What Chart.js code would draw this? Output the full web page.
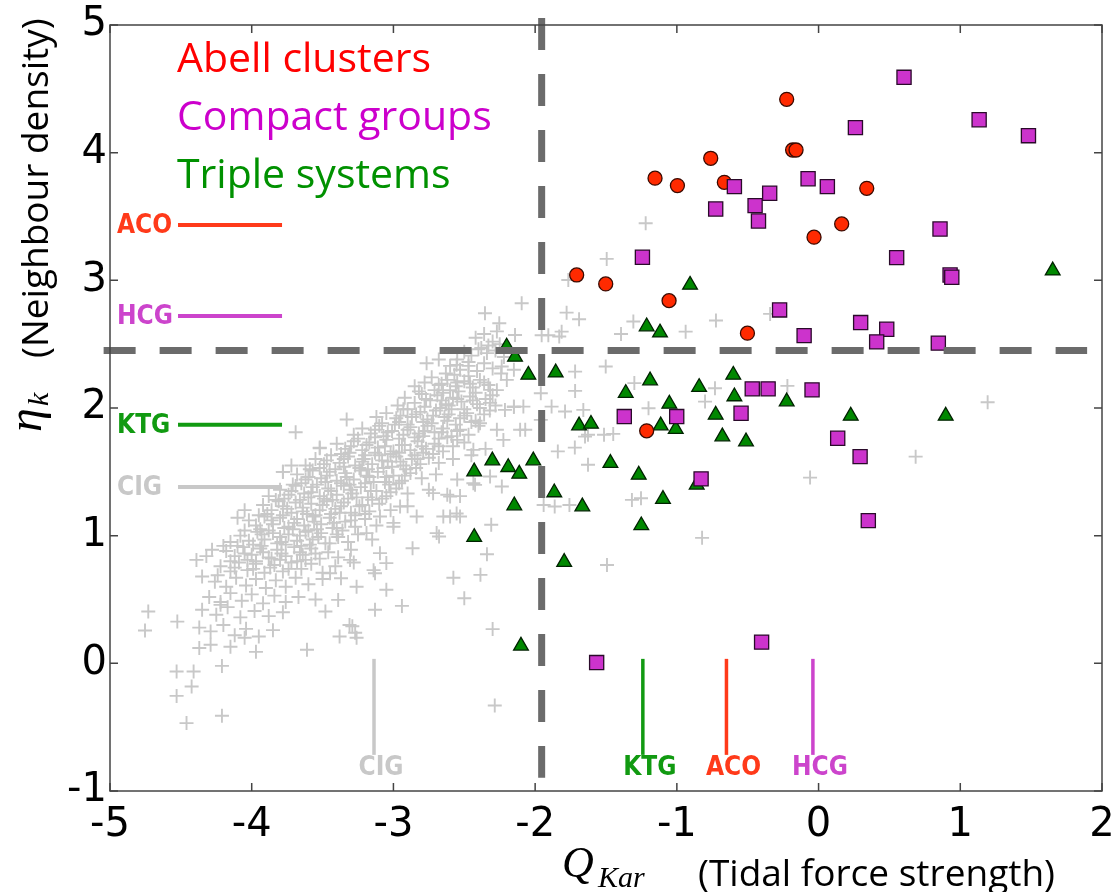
<!DOCTYPE html>
<html>
<head>
<meta charset="utf-8">
<script src="https://cdn.jsdelivr.net/npm/chart.js@4.4.0/dist/chart.umd.min.js"></script>
<style>
  html, body { margin: 0; padding: 0; background: #fff; }
</style>
</head>
<body>
<canvas id="chart" width="1118" height="892"></canvas>
<script>
// isolated galaxies (CIG), [Q_Kar, eta_k]
const cigPoints = [
  [-2.42,2.55],[-2.36,2.58],[-2.30,2.52],[-2.27,2.60],[-2.33,2.49],[-2.38,2.47],[-2.25,2.50],
  [-2.50,2.44],[-2.45,2.41],[-2.40,2.46],[-2.34,2.43],[-2.28,2.45],[-2.22,2.40],[-2.55,2.38],[-2.47,2.36],
  [-2.68,2.38],[-2.60,2.33],[-2.53,2.30],[-2.47,2.33],[-2.41,2.29],[-2.36,2.35],[-2.30,2.31],[-2.24,2.27],[-2.63,2.27],[-2.57,2.26],[-2.15,2.30],
  [-2.78,2.20],[-2.73,2.24],[-2.68,2.18],[-2.62,2.22],[-2.56,2.17],[-2.50,2.21],[-2.44,2.16],[-2.39,2.22],[-2.33,2.18],[-2.27,2.14],[-2.85,2.17],[-2.60,2.14],[-2.47,2.25],
  [-2.82,2.13],[-2.71,2.14],[-2.65,2.12],[-2.54,2.13],[-2.42,2.12],[-2.30,2.10],
  [-2.92,2.08],[-2.85,2.04],[-2.80,2.11],[-2.74,2.06],[-2.69,2.10],[-2.63,2.03],[-2.58,2.08],[-2.52,2.05],[-2.46,2.09],[-2.41,2.03],[-2.35,2.07],[-2.28,2.02],[-2.97,2.02],[-2.15,2.01],
  [-2.90,1.99],[-2.78,2.01],[-2.67,2.00],[-2.61,2.02],[-2.50,1.99],[-2.39,2.00],[-2.32,1.98],
  [-3.05,1.96],[-2.98,1.92],[-2.93,1.99],[-2.87,1.93],[-2.81,1.97],[-2.76,1.91],[-2.70,1.98],[-2.64,1.93],[-2.59,1.99],[-2.53,1.92],[-2.48,1.96],[-2.42,1.90],[-2.36,1.95],[-3.33,1.91],[-3.12,1.93],
  [-3.08,1.88],[-2.96,1.89],[-2.90,1.87],[-2.79,1.89],[-2.73,1.88],[-2.62,1.90],[-2.56,1.87],[-2.45,1.89],
  [-3.22,1.84],[-3.16,1.80],[-3.10,1.86],[-3.04,1.81],[-2.99,1.87],[-2.93,1.79],[-2.88,1.85],[-2.82,1.80],[-2.76,1.86],[-2.71,1.81],[-2.65,1.84],[-2.59,1.78],[-2.53,1.83],[-2.47,1.79],[-3.28,1.79],[-3.69,1.81],[-2.40,1.86],
  [-3.25,1.76],[-3.13,1.77],[-3.07,1.78],[-2.96,1.76],[-2.85,1.77],[-2.79,1.78],[-2.68,1.76],[-2.62,1.77],[-2.55,1.75],
  [-3.40,1.72],[-3.34,1.68],[-3.28,1.74],[-3.22,1.67],[-3.17,1.73],[-3.11,1.69],[-3.05,1.75],[-3.00,1.66],[-2.94,1.71],[-2.88,1.67],[-2.83,1.74],[-2.77,1.68],[-2.71,1.72],[-2.65,1.66],[-2.58,1.70],[-3.52,1.69],[-2.50,1.73],[-2.35,1.68],
  [-3.37,1.64],[-3.31,1.65],[-3.20,1.63],[-3.13,1.65],[-3.02,1.64],[-2.96,1.65],[-2.85,1.63],[-2.79,1.65],[-2.72,1.64],
  [-3.55,1.60],[-3.49,1.56],[-3.44,1.63],[-3.38,1.57],[-3.32,1.62],[-3.27,1.55],[-3.21,1.60],[-3.15,1.56],[-3.10,1.63],[-3.04,1.58],[-2.98,1.62],[-2.93,1.55],[-2.87,1.60],[-2.81,1.56],[-2.75,1.61],[-2.68,1.57],[-3.62,1.55],[-2.58,1.60],[-2.45,1.63],
  [-3.59,1.52],[-3.52,1.53],[-3.41,1.52],[-3.35,1.54],[-3.24,1.53],[-3.18,1.52],[-3.07,1.53],[-3.01,1.54],[-2.91,1.52],[-2.84,1.53],
  [-3.68,1.48],[-3.62,1.44],[-3.57,1.51],[-3.51,1.45],[-3.45,1.50],[-3.40,1.43],[-3.34,1.49],[-3.28,1.44],[-3.23,1.51],[-3.17,1.46],[-3.11,1.50],[-3.06,1.42],[-3.00,1.47],[-2.94,1.43],[-2.88,1.49],[-2.80,1.45],[-3.78,1.50],[-2.70,1.48],[-2.55,1.44],
  [-3.71,1.40],[-3.65,1.41],[-3.54,1.40],[-3.48,1.42],[-3.37,1.41],[-3.31,1.40],[-3.20,1.41],[-3.14,1.42],[-3.03,1.40],[-2.96,1.41],
  [-3.80,1.36],[-3.74,1.32],[-3.69,1.39],[-3.63,1.33],[-3.57,1.38],[-3.52,1.31],[-3.46,1.37],[-3.40,1.32],[-3.35,1.39],[-3.29,1.33],[-3.23,1.38],[-3.18,1.30],[-3.12,1.35],[-3.05,1.31],[-2.98,1.37],[-2.90,1.33],[-3.88,1.31],[-2.75,1.36],[-2.62,1.32],
  [-3.83,1.28],[-3.77,1.29],[-3.66,1.28],[-3.60,1.30],[-3.49,1.29],[-3.43,1.28],[-3.32,1.29],[-3.26,1.30],[-3.15,1.28],[-3.08,1.29],
  [-3.92,1.24],[-3.86,1.20],[-3.81,1.27],[-3.75,1.21],[-3.69,1.26],[-3.64,1.19],[-3.58,1.25],[-3.52,1.20],[-3.47,1.27],[-3.41,1.21],[-3.35,1.26],[-3.30,1.18],[-3.24,1.23],[-3.17,1.19],[-3.10,1.25],[-3.02,1.20],[-4.05,1.20],[-2.90,1.23],
  [-3.95,1.16],[-3.89,1.17],[-3.78,1.16],[-3.72,1.18],[-3.61,1.17],[-3.55,1.16],[-3.44,1.17],[-3.38,1.18],[-3.27,1.16],[-3.20,1.17],
  [-4.02,1.12],[-3.97,1.08],[-3.91,1.15],[-3.85,1.09],[-3.80,1.14],[-3.74,1.07],[-3.68,1.13],[-3.63,1.08],[-3.57,1.15],[-3.51,1.09],[-3.45,1.14],[-3.40,1.06],[-3.34,1.11],[-3.27,1.07],[-3.20,1.13],[-3.12,1.08],[-4.10,1.14],[-3.00,1.10],
  [-4.05,1.04],[-3.94,1.05],[-3.88,1.04],[-3.77,1.06],[-3.71,1.05],[-3.60,1.04],[-3.54,1.05],[-3.43,1.06],[-3.36,1.04],
  [-4.08,1.00],[-4.02,0.96],[-3.96,1.03],[-3.91,0.97],[-3.85,1.02],[-3.79,0.95],[-3.74,1.01],[-3.68,0.96],[-3.62,1.03],[-3.57,0.97],[-3.51,1.02],[-3.45,0.94],[-3.39,0.99],[-3.32,0.95],[-3.25,1.01],[-4.15,0.95],[-3.15,0.97],
  [-4.10,0.92],[-3.99,0.93],[-3.93,0.92],[-3.82,0.94],[-3.76,0.93],[-3.65,0.92],[-3.59,0.93],[-3.48,0.94],
  [-4.18,0.88],[-4.12,0.84],[-4.06,0.91],[-4.00,0.85],[-3.94,0.90],[-3.88,0.83],[-3.82,0.89],[-3.76,0.84],[-3.70,0.91],[-3.64,0.85],[-3.58,0.90],[-3.52,0.82],[-3.46,0.87],[-3.39,0.83],[-3.30,0.89],[-4.28,0.89],[-4.39,0.81],[-4.32,0.84],[-4.20,0.92],
  [-4.15,0.80],[-4.03,0.81],[-3.97,0.80],[-3.86,0.82],[-3.80,0.81],[-3.68,0.80],[-3.62,0.81],
  [-4.22,0.76],[-4.15,0.72],[-4.09,0.79],[-4.03,0.73],[-3.97,0.78],[-3.91,0.71],[-3.84,0.77],[-3.78,0.72],[-3.72,0.79],[-3.65,0.74],[-3.58,0.78],[-3.50,0.71],[-3.41,0.76],[-4.35,0.68],[-4.24,0.69],[-3.28,0.79],[-3.05,0.785],
  [-4.26,0.64],[-4.18,0.60],[-4.11,0.67],[-4.04,0.61],[-3.97,0.66],[-3.90,0.59],[-3.83,0.65],[-3.76,0.60],[-3.69,0.67],[-3.60,0.62],[-3.50,0.66],[-3.37,0.667],[-3.26,0.60],[-3.13,0.706],
  [-4.30,0.52],[-4.22,0.48],[-4.15,0.55],[-4.07,0.49],[-4.00,0.54],[-3.92,0.47],[-3.84,0.53],[-3.76,0.48],[-3.67,0.52],[-3.55,0.50],[-3.39,0.497],[-3.05,0.576],[-2.94,0.45],
  [-4.35,0.42],[-4.25,0.38],[-4.17,0.44],[-4.08,0.36],[-3.98,0.41],[-3.88,0.37],[-3.78,0.40],[-3.48,0.406],[-3.13,0.42],[-4.22,0.458],
  [-4.37,0.28],[-4.29,0.25],[-4.20,0.30],[-4.12,0.22],[-4.04,0.27],[-3.95,0.21],[-3.85,0.26],[-3.29,0.29],[-3.27,0.24],[-3.38,0.21],[-3.26,0.20],[-3.31,0.30],
  [-4.37,0.12],[-4.29,0.145],[-4.15,0.13],[-4.05,0.20],[-3.97,0.09],[-3.61,0.106],
  [-4.73,0.406],[-4.753,0.257],[-4.525,0.327],[-4.53,-0.064],[-4.41,-0.064],[-4.424,-0.182],[-4.53,-0.255],[-4.46,-0.468],[-4.21,-0.411],[-4.21,-0.02],
  [-3.78,1.50],[-3.72,1.55],[-3.52,1.685],
  [-3.86,1.12],[-3.70,1.10],[-3.56,1.11],[-3.42,1.10],[-3.30,1.12],
  [-3.93,1.01],[-3.80,0.99],[-3.66,1.00],[-3.53,0.99],[-3.40,1.01],
  [-3.78,1.23],[-3.64,1.22],[-3.50,1.24],[-3.37,1.23],[-3.22,1.24],
  [-3.72,1.35],[-3.58,1.34],[-3.44,1.35],[-3.30,1.36],[-3.16,1.35],[-3.02,1.34],
  [-3.60,1.46],[-3.47,1.47],[-3.33,1.46],[-3.19,1.47],[-3.05,1.46],[-2.92,1.47],
  [-3.47,1.59],[-3.35,1.60],[-3.22,1.58],[-3.08,1.59],[-2.95,1.58],[-2.83,1.60],
  [-3.30,1.70],[-3.19,1.71],[-3.06,1.70],[-2.92,1.71],[-2.80,1.70],[-2.68,1.70],
  [-3.13,1.83],[-3.01,1.82],[-2.90,1.83],[-2.78,1.82],[-2.66,1.81],[-2.55,1.82],
  [-2.95,1.94],[-2.84,1.95],[-2.72,1.94],[-2.61,1.95],[-2.50,1.94],
  [-2.77,2.07],[-2.66,2.06],[-2.55,2.07],[-2.44,2.06],
  [-2.66,2.19],[-2.55,2.20],[-2.46,2.19],[-2.36,2.20],
  [-4.05,0.86],[-3.92,0.87],[-3.79,0.86],[-3.66,0.87],[-3.55,0.86],
  [-4.12,0.75],[-3.99,0.74],[-3.87,0.75],[-3.74,0.74],
  [-2.424,1.398],[-2.235,1.385],[-2.31,1.085],[-2.678,0.993],[-2.865,0.902],[-2.34,0.855],[-2.577,0.67],[-2.386,0.693],[-2.50,0.51],[-2.30,0.268],[-2.285,-0.33],
  [-2.53,1.31],[-2.436,1.41],[-2.318,1.463],[-2.60,1.15],[-2.53,1.15],[-2.554,1.174],[-2.695,1.02],[-2.648,1.15],[-2.72,1.333],[-2.60,1.306],
  [-2.953,1.228],[-2.836,1.15],[-3.095,1.15],[-3.00,1.07],[-3.19,1.02],[-3.095,0.863],[-3.306,0.81],[-3.14,0.73],[-3.447,0.706],
  [-2.236,2.325],[-2.20,2.22],[-2.318,2.142],[-2.083,2.011],[-2.106,1.83],[-2.213,1.985],[-2.389,1.88],[-2.224,1.75],[-1.96,1.907],[-1.96,2.116],
  [-2.318,2.04],[-2.27,1.83],[-2.436,1.672],[-2.766,2.35],[-2.554,2.338],[-2.07,1.83],[-2.15,2.01],
  [-1.22,3.447],[-1.495,3.168],[-1.766,3.003],[-2.095,2.82],[-2.354,2.742],[-2.253,2.664],[-1.778,2.747],[-1.69,2.695],[-1.813,2.598],
  [-1.307,2.677],[-1.394,2.58],[-0.938,2.598],[-0.724,2.685],[-0.342,2.737],[-2.142,2.572],[-1.954,2.57],[-1.907,2.57],[-1.83,2.56],
  [-0.22,2.173],[1.193,2.045],[0.685,1.619],[-0.06,1.455],[-0.822,0.983],[-1.493,0.77],
  [-1.84,1.66],[-1.72,1.69],[-1.627,1.555],[-1.862,1.228],[-1.758,1.24],[-1.317,1.28],[-1.253,1.293],[-1.94,1.24],[-1.627,1.79],[-1.514,1.79],
  [-1.718,2.285],[-1.502,2.325],[-1.718,2.134],[-1.884,2.011],[-1.789,1.972],[-1.66,1.985],[-1.30,2.195],[-1.20,1.998],[-1.449,1.797],[-1.648,1.776],
  [-0.731,2.155],[-0.801,2.05]
];

// triple systems (KTG)
const ktgPoints = [
  [1.652,3.076],[-0.907,2.964],[-1.213,2.638],[-1.119,2.59],[-2.201,2.48],[-2.142,2.40],[-2.048,2.259],[-1.855,2.277],
  [-1.189,2.215],[-1.361,2.116],[-1.053,2.032],[-0.843,2.163],[-0.602,2.259],[-0.594,2.09],[-0.726,1.946],[-0.512,1.737],
  [-0.679,1.776],[-1.69,1.862],[-1.606,1.875],[-1.114,1.862],[-1.008,1.834],[-2.302,1.588],[-2.43,1.502],[-2.19,1.536],
  [-2.112,1.484],[-2.013,1.588],[-1.469,1.568],[-1.269,1.476],[-1.865,1.338],[-1.667,1.228],[-2.147,1.236],[-1.098,1.286],
  [-0.86,1.398],[-1.251,1.08],[-2.43,0.988],[-1.795,0.793],[-2.10,0.137],[-0.225,2.05],[0.227,1.938],[0.897,1.938]
];

// Abell clusters (ACO)
const acoPoints = [
  [-0.761,3.956],[-1.154,3.80],[-0.996,3.742],[-0.665,3.768],[-1.707,3.042],[-1.502,2.972],[-1.055,2.841],[-0.502,2.586],
  [-0.225,4.418],[-0.183,4.021],[-0.159,4.021],[0.340,3.721],[0.163,3.442],[-0.032,3.338],[-1.213,1.821]
];

// Hickson compact groups (HCG)
const hcgPoints = [
  [0.603,4.590],[0.260,4.196],[1.133,4.258],[1.481,4.133],[-0.594,3.734],[-0.074,3.796],[0.062,3.734],[-0.345,3.682],
  [-0.726,3.559],[-0.448,3.585],[-0.424,3.465],[0.857,3.402],[-1.243,3.181],[0.551,3.178],[0.928,3.042],[0.94,3.024],
  [-0.275,2.768],[-0.102,2.567],[0.297,2.669],[0.481,2.617],[0.410,2.518],[0.845,2.508],
  [-0.468,2.15],[-0.356,2.15],[-0.046,2.142],[-0.547,1.959],[-1.371,1.933],[-1.001,1.933],[-0.829,1.445],
  [0.135,1.763],[0.293,1.619],[0.351,1.118],[-0.402,0.166],[-1.566,0.006]
];

const groupNames = ['Abell clusters', 'Compact groups', 'Triple systems'];
const groupColors = ['#ff0000', '#cc00cc', '#009100'];

// sample medians
const medianNames = ['ACO', 'HCG', 'KTG', 'CIG'];
const medianColors = ['#ff3a1a', '#cc44cc', '#119a11', '#c8c8c8'];
const medianQ = [-0.65, -0.04, -1.24, -3.137];
const medianEta = [3.434, 2.721, 1.868, 1.382];

// isolation criteria
const qLimit = -1.954;
const etaLimit = 2.45;

const xTicks = [-5, -4, -3, -2, -1, 0, 1, 2];
const yTicks = [-1, 0, 1, 2, 3, 4, 5];

const toXY = pts => pts.map(p => ({ x: p[0], y: p[1] }));

const overlay = {
  id: 'overlay',
  beforeDatasetsDraw(chart) {
    const { ctx, scales: { x, y } } = chart;
    ctx.save();
    ctx.font = '41px "Open Sans"';
    ctx.textAlign = 'left';
    ctx.textBaseline = 'alphabetic';
    groupNames.forEach((name, i) => {
      ctx.fillStyle = groupColors[i];
      ctx.fillText(name, 177, 72 + i * 58);
    });

    ctx.lineCap = 'butt';
    medianNames.forEach((name, i) => {
      ctx.strokeStyle = medianColors[i];
      ctx.fillStyle = medianColors[i];
      const py = y.getPixelForValue(medianEta[i]);
      ctx.lineWidth = 4;
      ctx.beginPath();
      ctx.moveTo(x.getPixelForValue(-4.52), py);
      ctx.lineTo(x.getPixelForValue(-3.786), py);
      ctx.stroke();
      const px = x.getPixelForValue(medianQ[i]);
      ctx.lineWidth = 3.5;
      ctx.beginPath();
      ctx.moveTo(px, y.getPixelForValue(0.035));
      ctx.lineTo(px, y.getPixelForValue(-0.717));
      ctx.stroke();
      ctx.font = 'bold 26px "DejaVu Sans Condensed", "DejaVu Sans"';
      ctx.textBaseline = 'middle';
      ctx.textAlign = 'left';
      ctx.fillText(name, 117, py + 1);
      ctx.textAlign = 'center';
      ctx.fillText(name, px + 7, 768);
    });
    ctx.restore();
  },
  afterDatasetsDraw(chart) {
    const { ctx, chartArea: a, scales: { x, y } } = chart;
    ctx.save();
    // dashed limits
    ctx.strokeStyle = '#6b6b6b';
    ctx.lineWidth = 7;
    ctx.setLineDash([32, 24]);
    ctx.beginPath();
    ctx.moveTo(x.getPixelForValue(-5.045), y.getPixelForValue(etaLimit));
    ctx.lineTo(x.getPixelForValue(1.895), y.getPixelForValue(etaLimit));
    ctx.stroke();
    ctx.beginPath();
    ctx.moveTo(x.getPixelForValue(qLimit), y.getPixelForValue(5.055));
    ctx.lineTo(x.getPixelForValue(qLimit), y.getPixelForValue(-0.897));
    ctx.stroke();
    ctx.setLineDash([]);

    // frame and inward ticks
    ctx.strokeStyle = '#444';
    ctx.lineWidth = 1.5;
    ctx.strokeRect(a.left, a.top, a.right - a.left, a.bottom - a.top);
    ctx.beginPath();
    xTicks.forEach(v => {
      const px = x.getPixelForValue(v);
      ctx.moveTo(px, a.bottom); ctx.lineTo(px, a.bottom - 8);
      ctx.moveTo(px, a.top); ctx.lineTo(px, a.top + 8);
    });
    yTicks.forEach(v => {
      const py = y.getPixelForValue(v);
      ctx.moveTo(a.left, py); ctx.lineTo(a.left + 8, py);
      ctx.moveTo(a.right, py); ctx.lineTo(a.right - 8, py);
    });
    ctx.stroke();
    ctx.restore();
  },
  afterDraw(chart) {
    const { ctx } = chart;
    ctx.save();
    ctx.fillStyle = '#000';
    ctx.textAlign = 'left';
    ctx.textBaseline = 'alphabetic';
    // x title
    ctx.font = 'italic 44px "Liberation Serif"';
    ctx.fillText('Q', 562, 877);
    ctx.font = 'italic 30px "Liberation Serif"';
    ctx.fillText('Kar', 598, 887);
    ctx.font = '37px "Open Sans"';
    ctx.fillText('(Tidal force strength)', 698, 886);
    // y title
    ctx.save();
    ctx.translate(41, 432);
    ctx.rotate(-Math.PI / 2);
    ctx.font = 'italic 48px "Liberation Serif"';
    ctx.fillText('η', 0, 0);
    ctx.font = 'italic 30px "Liberation Serif"';
    ctx.fillText('k', 26, 7);
    ctx.restore();
    ctx.save();
    ctx.translate(48, 358);
    ctx.rotate(-Math.PI / 2);
    ctx.font = '37px "Open Sans"';
    ctx.fillText('(Neighbour density)', 0, 0);
    ctx.restore();
    ctx.restore();
  }
};

new Chart(document.getElementById('chart'), {
  type: 'scatter',
  data: {
    datasets: [
      {
        label: 'HCG',
        data: toXY(hcgPoints),
        pointStyle: 'rect',
        pointRadius: 10,
        backgroundColor: '#cc33cc',
        borderColor: '#2a0a2a',
        borderWidth: 1.3,
        order: 0
      },
      {
        label: 'ACO',
        data: toXY(acoPoints),
        pointStyle: 'circle',
        pointRadius: 7,
        backgroundColor: '#ff2a00',
        borderColor: '#3a0a00',
        borderWidth: 1.3,
        order: 1
      },
      {
        label: 'KTG',
        data: toXY(ktgPoints),
        pointStyle: 'triangle',
        pointRadius: 8.5,
        backgroundColor: '#008800',
        borderColor: '#002200',
        borderWidth: 1.3,
        order: 2
      },
      {
        label: 'CIG',
        data: toXY(cigPoints),
        pointStyle: 'cross',
        pointRadius: 7,
        backgroundColor: 'rgba(0,0,0,0)',
        borderColor: '#c8c8c8',
        borderWidth: 1.9,
        order: 3
      }
    ]
  },
  options: {
    responsive: false,
    animation: false,
    events: [],
    layout: { padding: { top: 25, right: 16, left: 0, bottom: 0 } },
    plugins: {
      legend: { display: false },
      tooltip: { enabled: false }
    },
    scales: {
      x: {
        type: 'linear',
        min: -5,
        max: 2,
        afterBuildTicks: s => { s.ticks = xTicks.map(v => ({ value: v })); },
        afterFit: s => { s.height = 101; s.paddingLeft = 0; s.paddingRight = 0; },
        grid: { display: false, drawTicks: false },
        border: { display: false },
        ticks: { color: '#000', padding: 11, font: { family: 'DejaVu Sans', size: 40 } }
      },
      y: {
        type: 'linear',
        min: -1,
        max: 5,
        afterBuildTicks: s => { s.ticks = yTicks.map(v => ({ value: v })); },
        afterFit: s => { s.width = 110; s.paddingTop = 0; s.paddingBottom = 0; },
        grid: { display: false, drawTicks: false },
        border: { display: false },
        ticks: { color: '#000', padding: 3, font: { family: 'DejaVu Sans', size: 40 } }
      }
    }
  },
  plugins: [overlay]
});
</script>
</body>
</html>
